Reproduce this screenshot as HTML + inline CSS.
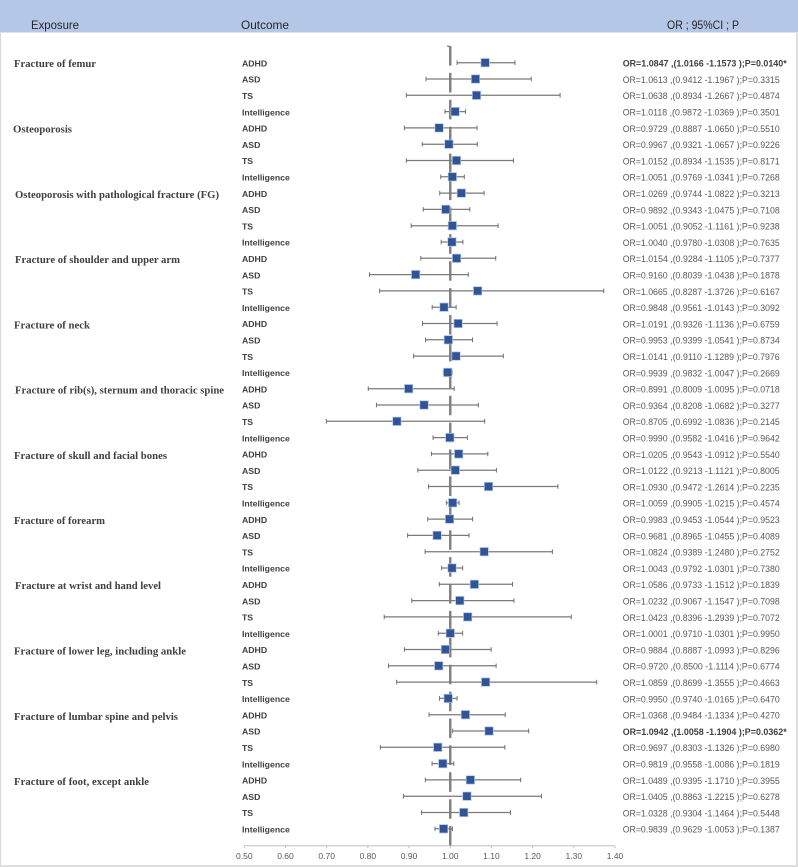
<!DOCTYPE html>
<html>
<head>
<meta charset="utf-8">
<title>Forest plot</title>
<style>
html,body{margin:0;padding:0;background:#fff;width:798px;height:867px;overflow:hidden}
svg{display:block}
.exp{font:bold 10.5px "Liberation Serif",serif;fill:#3f3f3f}
.hdr{font:11.6px "Liberation Sans",sans-serif;fill:#262626}
.out{font:bold 8.7px "Liberation Sans",sans-serif;fill:#404040}
.res{font:9.3px "Liberation Sans",sans-serif;fill:#595959}
.res.sig{font-weight:bold;fill:#404040}
.tick{font:8.5px "Liberation Sans",sans-serif;fill:#595959;text-anchor:middle}
</style>
</head>
<body>
<svg id="chart" xmlns="http://www.w3.org/2000/svg" width="798" height="867" viewBox="0 0 798 867">
  <rect x="0" y="0" width="798" height="867" fill="#ffffff"/>
  <rect x="0" y="33" width="1.2" height="834" fill="#d9d9d9"/>
  <rect x="796" y="33" width="2" height="834" fill="#dedede"/>
  <rect x="0" y="865" width="798" height="2" fill="#dedede"/>
  <rect x="0" y="0" width="798" height="32" fill="#b4c7e7"/>
  <rect x="0" y="32" width="798" height="1" fill="#e2e2e2"/>
  <text class="hdr" x="31" y="29" textLength="48" lengthAdjust="spacingAndGlyphs">Exposure</text>
  <text class="hdr" x="241" y="29" textLength="48" lengthAdjust="spacingAndGlyphs">Outcome</text>
  <text class="hdr" x="667" y="29" textLength="72" lengthAdjust="spacingAndGlyphs">OR ; 95%CI ; P</text>

  <text class="exp" x="14" y="67" textLength="82" lengthAdjust="spacingAndGlyphs">Fracture of femur</text>
  <text class="exp" x="13" y="132.5" textLength="59" lengthAdjust="spacingAndGlyphs">Osteoporosis</text>
  <text class="exp" x="15" y="198" textLength="204" lengthAdjust="spacingAndGlyphs">Osteoporosis with pathological fracture (FG)</text>
  <text class="exp" x="15" y="263" textLength="165" lengthAdjust="spacingAndGlyphs">Fracture of shoulder and upper arm</text>
  <text class="exp" x="14" y="328.5" textLength="76" lengthAdjust="spacingAndGlyphs">Fracture of neck</text>
  <text class="exp" x="15" y="393.5" textLength="209" lengthAdjust="spacingAndGlyphs">Fracture of rib(s), sternum and thoracic spine</text>
  <text class="exp" x="14" y="459" textLength="153" lengthAdjust="spacingAndGlyphs">Fracture of skull and facial bones</text>
  <text class="exp" x="14" y="524" textLength="91" lengthAdjust="spacingAndGlyphs">Fracture of forearm</text>
  <text class="exp" x="15" y="589" textLength="146" lengthAdjust="spacingAndGlyphs">Fracture at wrist and hand level</text>
  <text class="exp" x="14" y="654.5" textLength="172" lengthAdjust="spacingAndGlyphs">Fracture of lower leg, including ankle</text>
  <text class="exp" x="14" y="720" textLength="164" lengthAdjust="spacingAndGlyphs">Fracture of lumbar spine and pelvis</text>
  <text class="exp" x="14" y="785" textLength="135" lengthAdjust="spacingAndGlyphs">Fracture of foot, except ankle</text>
  <g id="plot"></g>
</svg>
<script>
const outcomes = ['ADHD', 'ASD', 'TS', 'Intelligence'];
const orValues = [1.0847,1.0613,1.0638,1.0118, 0.9729,0.9967,1.0152,1.0051, 1.0269,0.9892,1.0051,1.0040, 1.0154,0.9160,1.0665,0.9848, 1.0191,0.9953,1.0141,0.9939, 0.8991,0.9364,0.8705,0.9990, 1.0205,1.0122,1.0930,1.0059, 0.9983,0.9681,1.0824,1.0043, 1.0586,1.0232,1.0423,1.0001, 0.9884,0.9720,1.0859,0.9950, 1.0368,1.0942,0.9697,0.9819, 1.0489,1.0405,1.0328,0.9839];
const ciLow = [1.0166,0.9412,0.8934,0.9872, 0.8887,0.9321,0.8934,0.9769, 0.9744,0.9343,0.9052,0.9780, 0.9284,0.8039,0.8287,0.9561, 0.9326,0.9399,0.9110,0.9832, 0.8009,0.8208,0.6992,0.9582, 0.9543,0.9213,0.9472,0.9905, 0.9453,0.8965,0.9389,0.9792, 0.9733,0.9067,0.8396,0.9710, 0.8887,0.8500,0.8699,0.9740, 0.9484,1.0058,0.8303,0.9558, 0.9395,0.8863,0.9304,0.9629];
const ciHigh = [1.1573,1.1967,1.2667,1.0369, 1.0650,1.0657,1.1535,1.0341, 1.0822,1.0475,1.1161,1.0308, 1.1105,1.0438,1.3726,1.0143, 1.1136,1.0541,1.1289,1.0047, 1.0095,1.0682,1.0836,1.0416, 1.0912,1.1121,1.2614,1.0215, 1.0544,1.0455,1.2480,1.0301, 1.1512,1.1547,1.2939,1.0301, 1.0993,1.1114,1.3555,1.0165, 1.1334,1.1904,1.1326,1.0086, 1.1710,1.2215,1.1464,1.0053];
const pValues = [0.0140,0.3315,0.4874,0.3501, 0.5510,0.9226,0.8171,0.7268, 0.3213,0.7108,0.9238,0.7635, 0.7377,0.1878,0.6167,0.3092, 0.6759,0.8734,0.7976,0.2669, 0.0718,0.3277,0.2145,0.9642, 0.5540,0.8005,0.2235,0.4574, 0.9523,0.4089,0.2752,0.7380, 0.1839,0.7098,0.7072,0.9950, 0.8296,0.6774,0.4663,0.6470, 0.4270,0.0362,0.6980,0.1819, 0.3955,0.6278,0.5448,0.1387];
const xTicks = [0.5,0.6,0.7,0.8,0.9,1.0,1.1,1.2,1.3,1.4];
const nullValue = 1.0;

const NS = 'http://www.w3.org/2000/svg';
const plot = document.getElementById('plot');
function xScale(v) { return 244.3 + (v - 0.5) * 411.9; }
function yScale(i) { return 62.7 + i * 16.3; }
function make(tag, props) {
  const el = document.createElementNS(NS, tag);
  for (const k in props) el.setAttribute(k, props[k]);
  plot.appendChild(el);
  return el;
}
const axisY = 845.7;

const refLine = make('line', {x1: xScale(nullValue), x2: xScale(nullValue), y1: 46, y2: axisY, stroke: '#7f7f7f', 'stroke-width': 2.4, 'stroke-dasharray': '19.6 7.3'});



const refCurl = make('path', {d: 'M' + (xScale(nullValue) - 3) + ' 46 L' + (xScale(nullValue) - 1) + ' 46.5', fill: 'none', stroke: '#7f7f7f', 'stroke-width': 1.6});



const axisLine = make('line', {x1: xScale(xTicks[0]), x2: xScale(xTicks[xTicks.length - 1]), y1: axisY, y2: axisY, stroke: '#bfbfbf', 'stroke-width': 1});



xTicks.forEach(function (t) {
  const mark = make('line', {x1: xScale(t), x2: xScale(t), y1: axisY, y2: axisY + 2.5, stroke: '#bfbfbf', 'stroke-width': 1});
  
  
  const label = make('text', {x: xScale(t), y: 859, class: 'tick'});
  label.textContent = t.toFixed(2);
  
  
});

orValues.forEach(function (or, i) {
  const y = yScale(i);
  const lo = xScale(ciLow[i]);
  const hi = xScale(ciHigh[i]);
  const sig = pValues[i] < 0.05;

  const outcome = make('text', {x: 242, y: y + 3.7, class: 'out'});
  outcome.textContent = outcomes[i % outcomes.length];
  
  

  const ci = make('line', {x1: lo, x2: hi, y1: y, y2: y, stroke: '#7a7a7a', 'stroke-width': 1.25});
  
  

  const capLow = make('line', {x1: lo, x2: lo, y1: y - 2.3, y2: y + 2.3, stroke: '#6f6f6f', 'stroke-width': 1});
  
  

  const capHigh = make('line', {x1: hi, x2: hi, y1: y - 2.3, y2: y + 2.3, stroke: '#6f6f6f', 'stroke-width': 1});
  
  

  const box = make('rect', {x: xScale(or) - 4.2, y: y - 4.2, width: 8.4, height: 8.4, fill: '#2f5597', stroke: '#b4c7e7', 'stroke-width': 0.7});
  
  

  const res = make('text', {x: 622.7, y: y + 3.9, class: sig ? 'res sig' : 'res', textLength: sig ? 164 : 157, lengthAdjust: 'spacingAndGlyphs'});
  res.textContent = 'OR=' + or.toFixed(4) + ' ,(' + ciLow[i].toFixed(4) + ' -' + ciHigh[i].toFixed(4) + ' );P=' + pValues[i].toFixed(4) + (sig ? '*' : '');
  
  
});
</script>
</body>
</html>
